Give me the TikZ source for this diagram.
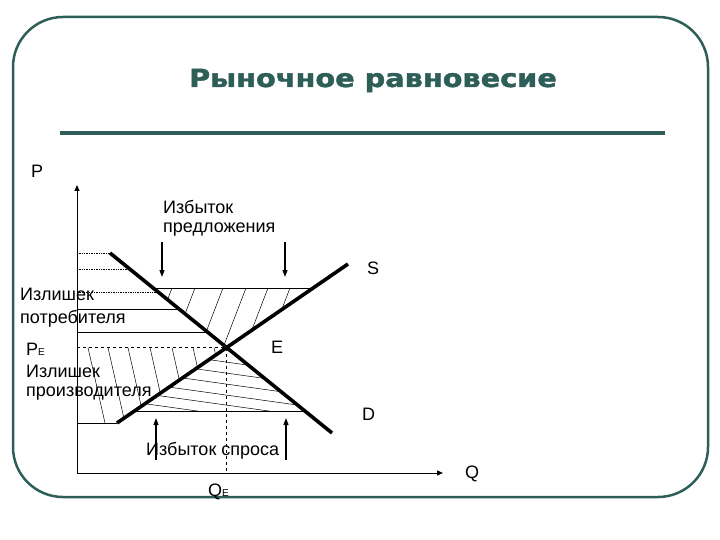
\documentclass[tikz,border=0pt]{standalone}
\usepackage{fontspec}
\setmainfont{Liberation Sans}
\newfontfamily\titlefont[BoldFeatures={FakeBold=1.5}]{DejaVu Sans}
\usetikzlibrary{arrows.meta}
\definecolor{teal1}{HTML}{2E5E58}
\begin{document}
\begin{tikzpicture}[x=1pt,y=-1pt,
  lbl/.style={anchor=base west,inner sep=0pt,font=\fontsize{18}{20}\selectfont},
  curve/.style={line width=3.6pt},
  thin/.style={line width=0.7pt},
  hatch/.style={line width=0.5pt},
  axis/.style={line width=1pt,-{Triangle[length=6pt,width=5pt]}},
  flow/.style={line width=1.2pt,-{Triangle[length=7pt,width=5pt]}}]
\useasboundingbox (0,0) rectangle (720,540);
% frame
\draw[teal1,line width=2.5pt,rounded corners=50pt] (13,17) rectangle (708,497);
\node[anchor=base,inner sep=0pt,text=teal1,xscale=1.15,font=\titlefont\bfseries\fontsize{25}{28}\selectfont] (title) at (373,87) {Рыночное равновесие};
\coordinate (r1) at (60,133); \coordinate (r2) at (665,133);
\draw[teal1,line width=3.2pt] (r1) -- (r2);
% key points
\coordinate (O) at (77,473);
\coordinate (Ptop) at (77,185);
\coordinate (Qend) at (443,473);
\coordinate (d1) at (110,253); \coordinate (d2) at (332,433);
\coordinate (s1) at (117,423); \coordinate (s2) at (348,264);
\coordinate (E) at (226.6,347.5);
\coordinate (QE) at (226.6,473);
\coordinate (PE) at (77,347.5);
\coordinate (ta) at (153.2,288); \coordinate (tb) at (313.1,288);
\coordinate (ba) at (134.4,411); \coordinate (bb) at (304.9,411);
\coordinate (pl) at (77,423);
% hatching: excess supply
\begin{scope}
\clip (ta) -- (tb) -- (E) -- cycle;
\foreach \x in {172,195,223,246,268,290,312}
  \draw[hatch] (\x,288) -- ++(-30,78);
\end{scope}
% hatching: producer surplus
\begin{scope}
\clip (PE) -- (E) -- (s1) -- (pl) -- cycle;
\foreach \x in {88,108,128,150,172,193,214}
  \draw[hatch] (\x,347.5) -- ++(18,80);
\end{scope}
% hatching: excess demand
\begin{scope}
\clip (E) -- (ba) -- (bb) -- cycle;
\foreach \y in {350,361,372,383,393,403}
  \draw[hatch] (140,\y) -- ++(200,28);
\end{scope}
% horizontal guide lines
\draw[thin,densely dotted] (77,253) -- (110,253);
\draw[thin,densely dotted] (77,269) -- (129.7,269);
\draw[thin,densely dotted] (77,292) -- (158.1,292);
\draw[thin] (77,309) -- (179.1,309);
\draw[thin] (77,332) -- (207.4,332);
\draw[thin,dashed] (PE) -- (E);
\draw[thin] (pl) -- (s1);
\draw[thin] (ta) -- (tb);
\draw[thin] (ba) -- (bb);
\draw[thin,dashed] (E) -- (QE);
% axes
\draw[axis] (O) -- (Ptop);
\draw[axis] (O) -- (Qend);
% curves
\draw[curve] (d1) -- (d2);
\draw[curve] (s1) -- (s2);
% arrows
\coordinate (a1s) at (162,242); \coordinate (a1e) at (162,277);
\coordinate (a2s) at (285,242); \coordinate (a2e) at (285,277);
\coordinate (a3s) at (156,460); \coordinate (a3e) at (156,418);
\coordinate (a4s) at (286,460); \coordinate (a4e) at (286,418);
\draw[flow] (a1s) -- (a1e);
\draw[flow] (a2s) -- (a2e);
\draw[flow] (a3s) -- (a3e);
\draw[flow] (a4s) -- (a4e);
% labels
\node[lbl] (lP) at (31,178) {P};
\node[lbl] (lIzb1) at (163,214) {Избыток};
\node[lbl] (lIzb2) at (163,233) {предложения};
\node[lbl] (lS) at (367,274) {S};
\node[lbl] (lC1) at (20,300) {Излишек};
\node[lbl] (lC2) at (20,323) {потребителя};
\node[lbl] (lPE) at (26,355) {P{\fontsize{10}{10}\selectfont E}};
\node[lbl] (lE) at (271,353) {E};
\node[lbl] (lPr1) at (26,377) {Излишек};
\node[lbl] (lPr2) at (26,396) {производителя};
\node[lbl] (lD) at (362,420) {D};
\node[lbl] (lIzd) at (146,455) {Избыток спроса};
\node[lbl] (lQ) at (465,478) {Q};
\node[lbl] (lQE) at (208,496) {Q{\fontsize{10}{10}\selectfont E}};
\end{tikzpicture}
\end{document}
